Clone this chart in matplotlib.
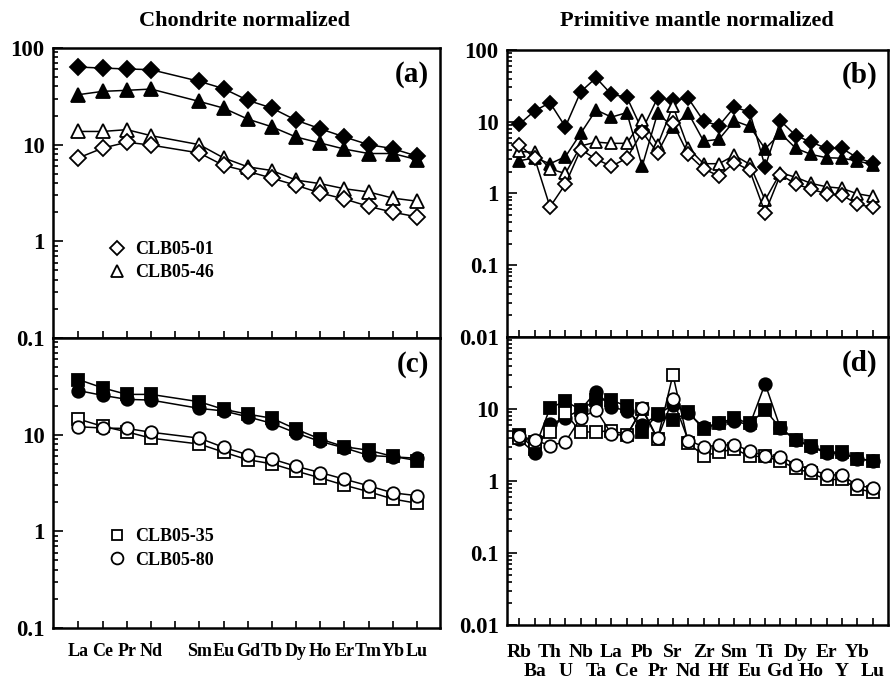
import numpy as np
import matplotlib.pyplot as plt
from matplotlib.lines import Line2D
from matplotlib.ticker import FixedLocator, FixedFormatter, LogLocator, NullFormatter

plt.rcParams['font.family'] = ['Liberation Serif', 'DejaVu Serif']
plt.rcParams['font.weight'] = 'bold'

# chondrite normalized REE (Pm has no data)
ree_ticks = ['La', 'Ce', 'Pr', 'Nd', '', 'Sm', 'Eu', 'Gd', 'Tb', 'Dy', 'Ho', 'Er', 'Tm', 'Yb', 'Lu']
ree = ['La', 'Ce', 'Pr', 'Nd', 'Sm', 'Eu', 'Gd', 'Tb', 'Dy', 'Ho', 'Er', 'Tm', 'Yb', 'Lu']

# panel a
a_clb0501 = [7.3, 9.2, 10.6, 9.9, 8.2, 6.1, 5.3, 4.5, 3.8, 3.16, 2.74, 2.3, 2.0, 1.79]
a_clb0546 = [13.7, 13.7, 14.3, 12.4, 10.0, 7.3, 5.9, 5.4, 4.3, 3.95, 3.5, 3.24, 2.8, 2.6]
a_fill_dia = [63.5, 62, 60.7, 59.7, 45.2, 38, 28.8, 23.9, 17.9, 14.6, 12.0, 10.0, 9.1, 7.6]
a_fill_tri = [32.9, 35.6, 36.5, 37.6, 28, 23.9, 18.4, 15.3, 12.0, 10.4, 9.0, 8.1, 8.1, 7.0]

# panel c
c_clb0535 = [14.5, 12.2, 10.7, 9.2, 8.0, 6.6, 5.5, 5.0, 4.2, 3.57, 3.0, 2.57, 2.16, 1.95]
c_clb0580 = [12.1, 11.7, 11.6, 10.6, 9.2, 7.4, 6.2, 5.6, 4.7, 4.06, 3.46, 2.96, 2.5, 2.34]
c_fill_sq = [37.2, 30.5, 26.1, 26.1, 21.9, 18.3, 16.3, 14.8, 11.4, 9.0, 7.5, 6.9, 5.96, 5.4]
c_fill_ci = [28.6, 25.5, 23.2, 22.8, 18.7, 17.6, 15.3, 13.1, 10.4, 8.5, 7.3, 6.1, 5.9, 5.7]

# primitive mantle normalized spider elements
spider = ['Rb', 'Ba', 'Th', 'U', 'Nb', 'Ta', 'La', 'Ce', 'Pb', 'Pr', 'Sr', 'Nd',
          'Zr', 'Hf', 'Sm', 'Eu', 'Ti', 'Gd', 'Dy', 'Ho', 'Er', 'Y', 'Yb', 'Lu']

# panel b
b_clb0501 = [4.8, 3.1, 0.65, 1.35, 4.1, 3.0, 2.4, 3.1, 7.2, 3.7, 9.5, 3.5,
             2.2, 1.75, 2.7, 2.1, 0.54, 1.83, 1.35, 1.15, 0.99, 0.95, 0.71, 0.64]
b_clb0546 = [3.85, 3.75, 2.2, 1.9, 4.6, 5.2, 5.0, 5.0, 10.5, 4.7, 16.5, 4.3,
             2.6, 2.6, 3.4, 2.55, 0.81, 1.95, 1.68, 1.38, 1.24, 1.18, 0.99, 0.91]
b_fill_dia = [9.2, 14.2, 18.4, 8.5, 26.2, 41, 24, 22, 7.65, 21.5, 20, 21.2,
              10.2, 8.8, 16, 13.6, 2.37, 10.3, 6.4, 5.2, 4.25, 4.25, 3.15, 2.65]
b_fill_tri = [2.85, 3.15, 2.6, 3.25, 6.9, 14.6, 11.6, 13.4, 2.4, 13.1, 8.5, 13.2,
              5.35, 5.7, 10.3, 8.6, 4.2, 6.9, 4.26, 3.5, 3.15, 3.1, 2.85, 2.52]

# panel d
d_clb0535 = [4.0, 3.5, 4.8, 8.7, 4.8, 4.8, 5.0, 4.4, 9.9, 3.8, 29.9, 3.35,
             2.25, 2.5, 2.8, 2.2, 2.2, 1.88, 1.5, 1.28, 1.05, 1.05, 0.78, 0.7]
d_clb0580 = [4.2, 3.7, 3.1, 3.5, 7.5, 9.7, 4.5, 4.25, 10.3, 3.9, 13.8, 3.65,
             3.0, 3.13, 3.2, 2.61, 2.2, 2.18, 1.69, 1.43, 1.23, 1.2, 0.87, 0.8]
d_fill_sq = [4.4, 2.8, 10.3, 12.9, 9.7, 13.4, 13.3, 10.9, 4.85, 8.4, 7.0, 9.0,
             5.25, 6.4, 7.4, 6.3, 9.7, 5.4, 3.75, 3.05, 2.53, 2.5, 2.03, 1.9]
d_fill_ci = [3.8, 2.45, 6.1, 7.6, 9.8, 17.4, 10.6, 9.5, 6.0, 8.3, 11.5, 8.8,
             5.55, 6.4, 6.8, 6.0, 22.4, 5.4, 3.7, 2.95, 2.45, 2.4, 2.05, 1.92]

ree_x = [i for i, t in enumerate(ree_ticks) if t]
spider_x = np.arange(len(spider))

fig = plt.figure(figsize=(8.94, 6.79), dpi=100)
ax_a = fig.add_axes([0.0593, 0.5022, 0.4329, 0.4271])
ax_c = fig.add_axes([0.0593, 0.0751, 0.4329, 0.4271])
ax_b = fig.add_axes([0.5671, 0.5037, 0.4262, 0.4227])
ax_d = fig.add_axes([0.5671, 0.0795, 0.4262, 0.4242])

lw = 1.1
mew = 1.3
ms_dia, ms_tri, ms_sq, ms_ci = 8, 9.5, 8, 9


def draw(ax, x, y, marker, ms, filled, label=None):
    fc = 'black' if filled else 'white'
    ax.plot(x, y, color='black', lw=lw, marker=marker, ms=ms,
            mfc=fc, mec='black', mew=mew, label=label, zorder=3 if filled else 4)


draw(ax_a, ree_x, a_fill_dia, 'D', ms_dia, True)
draw(ax_a, ree_x, a_fill_tri, '^', ms_tri, True)
draw(ax_a, ree_x, a_clb0546, '^', ms_tri, False)
draw(ax_a, ree_x, a_clb0501, 'D', ms_dia, False)

draw(ax_c, ree_x, c_fill_sq, 's', ms_sq, True)
draw(ax_c, ree_x, c_fill_ci, 'o', ms_ci, True)
draw(ax_c, ree_x, c_clb0535, 's', ms_sq, False)
draw(ax_c, ree_x, c_clb0580, 'o', ms_ci, False)

draw(ax_b, spider_x, b_fill_dia, 'D', ms_dia - 0.5, True)
draw(ax_b, spider_x, b_fill_tri, '^', ms_tri - 0.5, True)
draw(ax_b, spider_x, b_clb0546, '^', ms_tri - 0.5, False)
draw(ax_b, spider_x, b_clb0501, 'D', ms_dia - 0.5, False)

draw(ax_d, spider_x, d_fill_sq, 's', ms_sq, True)
draw(ax_d, spider_x, d_fill_ci, 'o', ms_ci, True)
draw(ax_d, spider_x, d_clb0535, 's', ms_sq, False)
draw(ax_d, spider_x, d_clb0580, 'o', ms_ci, False)


def style(ax, ymin, labels_shown):
    ax.set_yscale('log')
    ax.set_ylim(ymin, 100)
    decades = [10.0 ** k for k in range(int(np.log10(ymin)), 3)]
    names = [('%g' % d) for d in decades]
    names = [n if n in labels_shown else '' for n in names]
    ax.yaxis.set_major_locator(FixedLocator(decades))
    ax.yaxis.set_major_formatter(FixedFormatter(names))
    ax.yaxis.set_minor_locator(LogLocator(base=10, subs=np.arange(2, 10)))
    ax.yaxis.set_minor_formatter(NullFormatter())
    ax.tick_params(which='both', direction='in', left=True, right=False,
                   top=False, bottom=True, width=1.2)
    ax.tick_params(axis='y', which='major', length=7, labelsize=16.5, pad=6)
    ax.tick_params(axis='y', which='minor', length=3.5)
    ax.tick_params(axis='x', which='both', length=5)
    for s in ax.spines.values():
        s.set_linewidth(1.8)
    for t in ax.get_yticklabels():
        t.set_fontweight('bold')


style(ax_a, 0.1, ['0.1', '1', '10', '100'])
style(ax_c, 0.1, ['0.1', '1', '10'])
style(ax_b, 0.01, ['0.01', '0.1', '1', '10', '100'])
style(ax_d, 0.01, ['0.01', '0.1', '1', '10'])

for ax in (ax_a, ax_c):
    ax.set_xlim(-1.05, 14.95)
    ax.set_xticks(range(len(ree_ticks)))
    ax.set_xticks([], minor=True)
ax_a.set_xticklabels([])
ax_c.set_xticklabels(ree_ticks, fontsize=13, fontweight='bold')
ax_c.tick_params(axis='x', pad=10.5)

# spider labels in two staggered rows: even on major ticks, odd on minor ticks
for ax in (ax_b, ax_d):
    ax.set_xlim(-0.8, 24.0)
    ax.set_xticks(spider_x[::2])
    ax.set_xticks(spider_x[1::2], minor=True)
ax_b.set_xticklabels([])
ax_b.set_xticklabels([], minor=True)
ax_d.set_xticklabels(spider[::2], fontsize=14, fontweight='bold')
ax_d.set_xticklabels(spider[1::2], minor=True, fontsize=14, fontweight='bold')
ax_d.tick_params(axis='x', which='major', pad=14)
ax_d.tick_params(axis='x', which='minor', pad=27)

for ax, lab in ((ax_a, '(a)'), (ax_b, '(b)'), (ax_c, '(c)'), (ax_d, '(d)')):
    ax.text(0.972, 0.91, lab, transform=ax.transAxes, ha='right', va='center',
            fontsize=21, fontweight='bold')

fig.text(0.274, 0.969, 'Chondrite normalized', ha='center', va='center',
         fontsize=16, fontweight='bold')
fig.text(0.78, 0.969, 'Primitive mantle normalized', ha='center', va='center',
         fontsize=16, fontweight='bold')


def legend(ax, names, markers, sizes, anchor):
    handles = [Line2D([], [], ls='none', marker=m, ms=s, mfc='white', mec='black', mew=mew)
               for m, s in zip(markers, sizes)]
    ax.legend(handles, names, loc='upper left', bbox_to_anchor=anchor, frameon=False,
              handlelength=1.0, handletextpad=0.5, labelspacing=0.35,
              prop={'size': 13, 'weight': 'bold'})


legend(ax_a, ['CLB05-01', 'CLB05-46'], ['D', '^'], [7, 8.5], (0.1, 0.39))
legend(ax_c, ['CLB05-35', 'CLB05-80'], ['s', 'o'], [7.5, 8.5], (0.1, 0.4))

fig.savefig('out.png', dpi=100)
